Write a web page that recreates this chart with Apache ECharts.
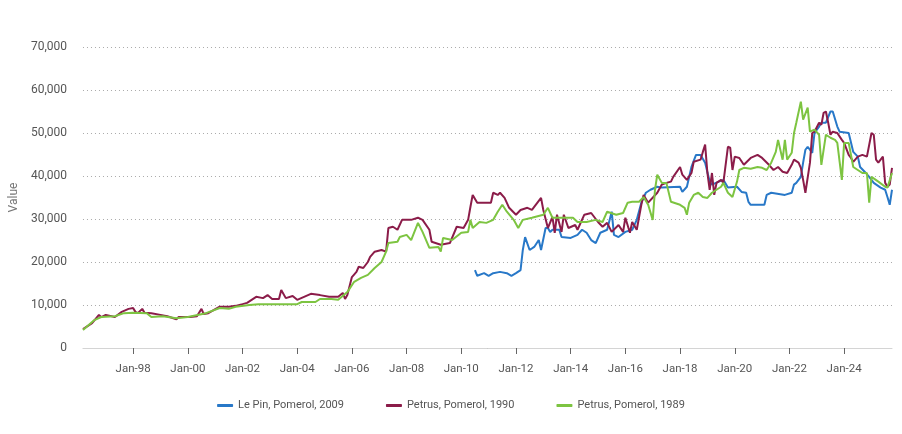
<!DOCTYPE html>
<html>
<head>
<meta charset="utf-8">
<script src="https://cdn.jsdelivr.net/npm/echarts@6/dist/echarts.min.js"></script>
<style>html,body{margin:0;padding:0;background:#fff}#c{width:902px;height:434px}</style>
</head>
<body>
<div id="c"></div>
<script>
// Month range of the x axis
const startMonth = '1996-03';
const endMonth = '2025-10';

const seriesNames = ['Le Pin, Pomerol, 2009', 'Petrus, Pomerol, 1990', 'Petrus, Pomerol, 1989'];

const lePin2009 = [
  ['2010-07',18100],['2010-08',16800],['2010-11',17400],['2011-01',16800],['2011-03',17400],
  ['2011-06',17700],['2011-09',17400],['2011-11',16800],['2012-01',17400],['2012-03',18100],
  ['2012-04',22800],['2012-05',25800],['2012-07',22800],['2012-09',23500],['2012-11',25100],
  ['2012-12',22800],['2013-02',27900],['2013-03',27900],['2013-04',27000],['2013-05',27500],
  ['2013-08',27500],['2013-09',25800],['2014-01',25600],['2014-04',26300],['2014-06',27500],
  ['2014-08',26800],['2014-10',25100],['2014-12',24400],['2015-02',26800],['2015-05',27500],
  ['2015-07',31700],['2015-08',26300],['2015-10',25800],['2016-01',27000],['2016-04',27500],
  ['2016-06',29800],['2016-08',33800],['2016-10',36100],['2016-12',36800],['2017-03',37500],
  ['2017-05',37300],['2018-01',37500],['2018-02',36300],['2018-04',37500],['2018-06',42100],
  ['2018-08',44900],['2018-10',44900],['2018-12',43100],['2019-02',38700],['2019-03',38000],
  ['2019-06',38700],['2019-08',39100],['2019-10',37300],['2020-02',37500],['2020-04',36300],
  ['2020-06',36100],['2020-07',34000],['2020-08',33300],['2021-02',33300],['2021-03',35600],
  ['2021-05',36100],['2021-11',35600],['2022-02',36100],['2022-03',38000],['2022-04',38400],
  ['2022-06',39800],['2022-07',43100],['2022-08',46100],['2022-09',46800],['2022-11',45400],
  ['2022-12',50000],['2023-02',51500],['2023-03',52400],['2023-05',52400],['2023-07',55000],
  ['2023-08',55000],['2023-10',51500],['2023-11',50300],['2024-03',50000],['2024-05',45600],
  ['2024-07',44500],['2024-08',42100],['2024-10',41000],['2024-12',39800],['2025-02',38400],
  ['2025-05',37300],['2025-07',36800],['2025-08',35100],['2025-09',33300],['2025-10',36800]
];

const petrus1990 = [
  ['1996-03',4400],['1996-07',5800],['1996-10',7700],['1996-11',7200],['1997-01',7700],
  ['1997-05',7200],['1997-08',8400],['1997-11',9100],['1998-01',9300],['1998-02',8400],
  ['1998-03',8100],['1998-05',9100],['1998-06',8200],['1998-09',8100],['1999-01',7700],
  ['1999-04',7400],['1999-08',6700],['1999-09',7200],['2000-02',7200],['2000-05',7400],
  ['2000-07',9100],['2000-08',7900],['2000-10',8100],['2001-03',9600],['2001-07',9600],
  ['2001-10',9800],['2002-01',10200],['2002-03',10500],['2002-05',11200],['2002-07',11900],
  ['2002-10',11600],['2002-12',12300],['2003-02',11400],['2003-05',11400],['2003-06',13500],
  ['2003-08',11600],['2003-11',12100],['2004-01',11200],['2004-04',11900],['2004-07',12600],
  ['2004-11',12300],['2005-03',11900],['2005-07',11900],['2005-09',12800],['2005-10',11400],
  ['2005-11',12300],['2006-01',16500],['2006-03',17700],['2006-04',18900],['2006-06',18600],
  ['2006-08',20000],['2006-09',21200],['2006-11',22400],['2007-02',22800],['2007-04',22400],
  ['2007-05',27900],['2007-07',28200],['2007-09',27500],['2007-11',29800],['2008-03',29800],
  ['2008-06',30300],['2008-08',29800],['2008-11',27500],['2008-12',24700],['2009-04',24000],
  ['2009-08',24400],['2009-11',28200],['2010-02',27900],['2010-04',29800],['2010-05',32800],
  ['2010-06',35600],['2010-08',33800],['2011-02',33800],['2011-03',36100],['2011-05',35600],
  ['2011-06',36100],['2011-08',34900],['2011-10',32600],['2012-01',31000],['2012-03',32100],
  ['2012-06',32600],['2012-08',32100],['2012-12',34900],['2013-01',32100],['2013-03',27900],
  ['2013-05',30500],['2013-06',26800],['2013-07',31000],['2013-09',27000],['2013-10',31000],
  ['2013-12',27900],['2014-03',28600],['2014-04',27500],['2014-07',31000],['2014-10',31400],
  ['2015-01',29300],['2015-03',28200],['2015-05',29100],['2015-07',27000],['2015-10',28600],
  ['2015-12',27000],['2016-01',30300],['2016-03',26800],['2016-04',29300],['2016-06',27500],
  ['2016-08',33300],['2016-09',35600],['2016-11',33800],['2017-03',36100],['2017-05',38000],
  ['2017-07',38400],['2017-09',38700],['2017-10',39800],['2018-01',42100],['2018-02',40300],
  ['2018-04',39100],['2018-06',40700],['2018-07',43300],['2018-10',43800],['2018-11',45600],
  ['2018-12',47300],['2019-01',40700],['2019-02',36800],['2019-03',40700],['2019-04',35600],
  ['2019-05',38400],['2019-07',39100],['2019-08',38400],['2019-10',46800],['2019-11',46600],
  ['2019-12',41400],['2020-01',44500],['2020-03',44200],['2020-05',42600],['2020-08',44200],
  ['2020-11',44900],['2021-01',44200],['2021-04',42600],['2021-06',41400],['2021-08',42100],
  ['2021-10',41000],['2021-12',40700],['2022-02',42600],['2022-03',43800],['2022-05',43100],
  ['2022-06',41900],['2022-07',39100],['2022-08',36100],['2022-09',39600],['2022-10',43100],
  ['2022-11',50000],['2022-12',50300],['2023-02',52400],['2023-03',51900],['2023-04',54700],
  ['2023-05',55000],['2023-06',52400],['2023-07',49600],['2023-08',50300],['2023-10',50000],
  ['2023-12',48400],['2024-01',47700],['2024-03',44900],['2024-04',44200],['2024-05',43300],
  ['2024-07',44500],['2024-09',44900],['2024-11',44500],['2025-01',50000],['2025-02',49600],
  ['2025-03',43800],['2025-04',43100],['2025-06',44500],['2025-07',38400],['2025-08',37500],
  ['2025-09',38000],['2025-10',41900]
];

const petrus1989 = [
  ['1996-03',4200],['1996-08',6500],['1996-11',7200],['1997-05',7400],['1997-09',8100],
  ['1998-01',8200],['1998-07',8100],['1998-09',7200],['1999-02',7400],['1999-08',6900],
  ['2000-01',7200],['2000-09',8100],['2001-03',9300],['2001-07',9100],['2001-10',9600],
  ['2002-04',10000],['2002-08',10200],['2003-06',10200],['2004-01',10200],['2004-03',10700],
  ['2004-09',10700],['2004-11',11400],['2005-04',11400],['2005-07',11200],['2005-11',13000],
  ['2006-02',15400],['2006-05',16300],['2006-08',17000],['2006-11',18600],['2007-02',20000],
  ['2007-04',22400],['2007-05',24400],['2007-09',24700],['2007-10',25800],['2008-01',26300],
  ['2008-03',25100],['2008-06',29100],['2008-08',27000],['2008-11',23300],['2009-03',23500],
  ['2009-04',22400],['2009-05',25600],['2009-09',25100],['2010-01',26800],['2010-04',27000],
  ['2010-05',29800],['2010-06',27900],['2010-09',29300],['2010-12',29100],['2011-03',29800],
  ['2011-05',31700],['2011-07',33300],['2011-09',31700],['2011-12',29800],['2012-02',27900],
  ['2012-04',29800],['2012-08',30300],['2013-01',31000],['2013-03',32600],['2013-05',30300],
  ['2013-11',30300],['2014-02',30300],['2014-04',29300],['2014-08',29300],['2014-12',29800],
  ['2015-03',29300],['2015-05',31700],['2015-09',31000],['2015-12',31400],['2016-02',33800],
  ['2016-04',34000],['2016-07',34000],['2016-09',35100],['2016-11',33300],['2017-01',29800],
  ['2017-02',36800],['2017-03',40300],['2017-05',38400],['2017-07',38400],['2017-09',34000],
  ['2018-01',33300],['2018-03',32600],['2018-04',31000],['2018-05',33800],['2018-07',35600],
  ['2018-09',36100],['2018-11',35100],['2019-01',34900],['2019-03',36100],['2019-05',36800],
  ['2019-07',37500],['2019-08',38400],['2019-10',36100],['2019-12',35100],['2020-02',38700],
  ['2020-03',41400],['2020-05',41900],['2020-08',41700],['2020-11',42100],['2021-01',41900],
  ['2021-03',41400],['2021-05',43100],['2021-07',45600],['2021-08',48400],['2021-10',43800],
  ['2021-11',48400],['2021-12',43800],['2022-02',45400],['2022-03',50000],['2022-04',52400],
  ['2022-06',57300],['2022-07',53100],['2022-09',55900],['2022-10',50300],['2022-12',50800],
  ['2023-02',49600],['2023-03',42600],['2023-05',49600],['2023-07',48900],['2023-09',48400],
  ['2023-10',47700],['2023-12',39100],['2024-01',47700],['2024-03',47700],['2024-05',42100],
  ['2024-07',41400],['2024-09',40700],['2024-11',40700],['2024-12',33800],['2025-01',39800],
  ['2025-04',38700],['2025-07',37500],['2025-08',37300],['2025-10',40700]
];

const colors = ['#2878c8', '#8b1c49', '#7dc441'];

// Build monthly categories
const months = [];
(function () {
  let [y, m] = startMonth.split('-').map(Number);
  const [ey, em] = endMonth.split('-').map(Number);
  while (y < ey || (y === ey && m <= em)) {
    months.push(y + '-' + String(m).padStart(2, '0'));
    m++; if (m > 12) { m = 1; y++; }
  }
})();

function isTick(idx) {
  const s = months[idx];
  const y = +s.slice(0, 4), m = +s.slice(5, 7);
  return m === 1 && y % 2 === 0;
}

const chart = echarts.init(document.getElementById('c'), null, { renderer: 'canvas' });
chart.setOption({
  animation: false,
  color: colors,
  grid: { left: 80, right: 10, top: 47, bottom: 86, containLabel: false },
  legend: {
    bottom: 18, left: 'center',
    itemWidth: 16, itemHeight: 3, itemGap: 42, icon: 'roundRect',
    textStyle: { color: '#555', fontSize: 11, fontFamily: 'Roboto, sans-serif' },
    data: seriesNames
  },
  xAxis: {
    type: 'category', data: months, boundaryGap: false,
    axisLine: { lineStyle: { color: '#d4d4d4', width: 1 } },
    axisTick: { show: true, interval: (i) => isTick(i), length: 6, lineStyle: { color: '#666' } },
    axisLabel: {
      interval: (i) => isTick(i), margin: 15,
      color: '#555', fontSize: 11.5, fontFamily: 'Roboto, sans-serif',
      formatter: (v) => 'Jan-' + v.slice(2, 4)
    },
    splitLine: { show: false }
  },
  yAxis: {
    type: 'value', min: 0, max: 70000, interval: 10000,
    name: 'Value', nameLocation: 'middle', nameGap: 62, nameRotate: 90,
    nameTextStyle: { color: '#777', fontSize: 12, fontFamily: 'Roboto, sans-serif' },
    axisLine: { show: false }, axisTick: { show: false },
    axisLabel: {
      color: '#555', fontSize: 12, margin: 16, fontFamily: 'Roboto, sans-serif',
      formatter: (v) => v.toLocaleString('en-US')
    },
    splitLine: { lineStyle: { color: '#aaa', type: [1, 3], width: 1 } }
  },
  series: [
    { name: seriesNames[0], type: 'line', data: lePin2009, showSymbol: false, symbol: 'none', lineStyle: { width: 2 } },
    { name: seriesNames[1], type: 'line', data: petrus1990, showSymbol: false, symbol: 'none', lineStyle: { width: 2 } },
    { name: seriesNames[2], type: 'line', data: petrus1989, showSymbol: false, symbol: 'none', lineStyle: { width: 2 } }
  ]
});
</script>
</body>
</html>
